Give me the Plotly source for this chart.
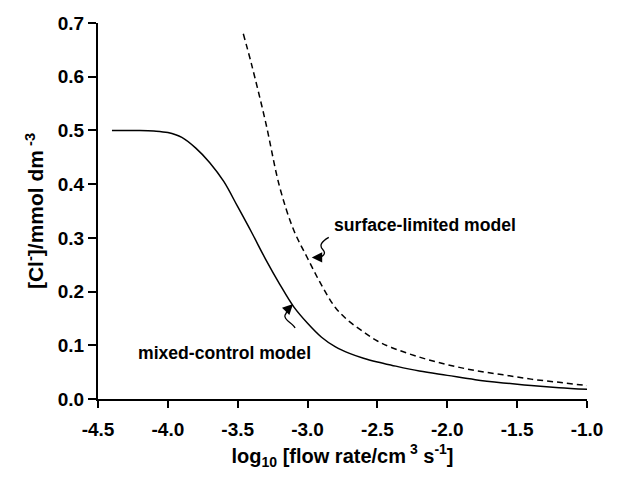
import plotly.graph_objects as go

# Data
mixed_x = [-4.4, -4.3, -4.2, -4.1, -4.0, -3.9, -3.8, -3.7, -3.6, -3.5, -3.4, -3.3, -3.2, -3.1,
           -3.0, -2.9, -2.8, -2.7, -2.6, -2.5, -2.4, -2.2, -2.0, -1.8, -1.6, -1.4, -1.2, -1.0]
mixed_y = [0.500, 0.500, 0.500, 0.499, 0.496, 0.487, 0.467, 0.440, 0.405, 0.358, 0.310, 0.260,
           0.214, 0.172, 0.141, 0.115, 0.097, 0.085, 0.076, 0.069, 0.063, 0.052, 0.044, 0.036,
           0.030, 0.025, 0.021, 0.018]

surface_x = [-3.46, -3.4, -3.3, -3.2, -3.1, -3.0, -2.9, -2.8, -2.7, -2.6, -2.5, -2.4, -2.2,
             -2.0, -1.8, -1.6, -1.4, -1.2, -1.0]
surface_y = [0.680, 0.622, 0.515, 0.395, 0.315, 0.262, 0.212, 0.170, 0.144, 0.125, 0.108,
             0.096, 0.078, 0.064, 0.053, 0.045, 0.037, 0.031, 0.025]

x_ticks = [-4.5, -4.0, -3.5, -3.0, -2.5, -2.0, -1.5, -1.0]
y_ticks = [0.0, 0.1, 0.2, 0.3, 0.4, 0.5, 0.6, 0.7]

FONT = "Liberation Sans, Arial, sans-serif"
PX_X = 139.6   # pixels per x unit
PX_Y = 537.6   # pixels per y unit

fig = go.Figure()
fig.add_trace(go.Scatter(x=mixed_x, y=mixed_y, mode="lines", line=dict(color="black", width=1.5, shape="spline"),
                         showlegend=False))
fig.add_trace(go.Scatter(x=surface_x, y=surface_y, mode="lines",
                         line=dict(color="black", width=1.5, dash="6px,4px", shape="spline"), showlegend=False))


def squiggle(tip, pts):
    tx, ty = tip
    conv = [(tx + dx / PX_X, ty - dy / PX_Y) for dx, dy in pts]
    p = "M {},{}".format(*conv[0])
    i = 1
    while i + 2 <= len(conv) - 1:
        p += " C {},{} {},{} {},{}".format(*conv[i], *conv[i + 1], *conv[i + 2])
        i += 3
    return p


surf_tip = (-2.97, 0.2636)
mix_tip = (-3.104, 0.1767)

shapes = [
    dict(type="path", xref="x", yref="y",
         path=squiggle(surf_tip, [(17, -20), (10, -16), (7, -12), (11, -8), (15, -4), (11, 0), (6, 0)]),
         line=dict(color="black", width=1.3)),
    dict(type="path", xref="x", yref="y",
         path=squiggle(mix_tip, [(2, 24), (0, 19), (-10, 16), (-8, 11), (-6, 8), (-6, 6), (-4, 4)]),
         line=dict(color="black", width=1.3)),
]

annotations = [
    dict(x=surf_tip[0], y=surf_tip[1], xref="x", yref="y", text="", showarrow=True,
         ax=8, ay=0, arrowhead=2, arrowsize=1.6, arrowwidth=1.3, arrowcolor="black"),
    dict(x=mix_tip[0], y=mix_tip[1], xref="x", yref="y", text="", showarrow=True,
         ax=-6, ay=6, arrowhead=2, arrowsize=1.6, arrowwidth=1.3, arrowcolor="black"),
    dict(x=-2.16, y=0.324, xref="x", yref="y", text="<b>surface-limited model</b>",
         showarrow=False, xanchor="center", yanchor="middle",
         font=dict(family=FONT, size=17.6, color="black")),
    dict(x=-3.596, y=0.0856, xref="x", yref="y", text="<b>mixed-control model</b>",
         showarrow=False, xanchor="center", yanchor="middle",
         font=dict(family=FONT, size=17.6, color="black")),
]

fig.update_layout(
    width=633, height=477,
    margin=dict(l=98, r=46, t=23, b=78),
    paper_bgcolor="white", plot_bgcolor="white",
    font=dict(family=FONT, color="black"),
    shapes=shapes, annotations=annotations,
    xaxis=dict(range=[-4.5, -1.0], tickvals=x_ticks, ticktext=["<b>%.1f</b>" % v for v in x_ticks],
               showgrid=False, zeroline=False, showline=True, linecolor="black", linewidth=2,
               ticks="outside", ticklen=7, tickwidth=1.5, tickcolor="black", ticklabelstandoff=5,
               tickfont=dict(family=FONT, size=19, color="black"),
               title=dict(text="<b>log<sub>10</sub> [flow rate/cm<sup> 3</sup> s<sup>-1</sup>]</b>",
                          font=dict(family=FONT, size=20, color="black"), standoff=10)),
    yaxis=dict(range=[0, 0.7], tickvals=y_ticks, ticktext=["<b>%.1f</b>" % v for v in y_ticks],
               showgrid=False, zeroline=False, showline=True, linecolor="black", linewidth=2,
               ticks="outside", ticklen=8, tickwidth=1.5, tickcolor="black",
               tickfont=dict(family=FONT, size=19, color="black"),
               title=dict(text="<b>[Cl<sup>-</sup>]/mmol dm<sup> -3</sup></b>",
                          font=dict(family=FONT, size=21, color="black"), standoff=8)),
)

fig.write_html("out.html")
